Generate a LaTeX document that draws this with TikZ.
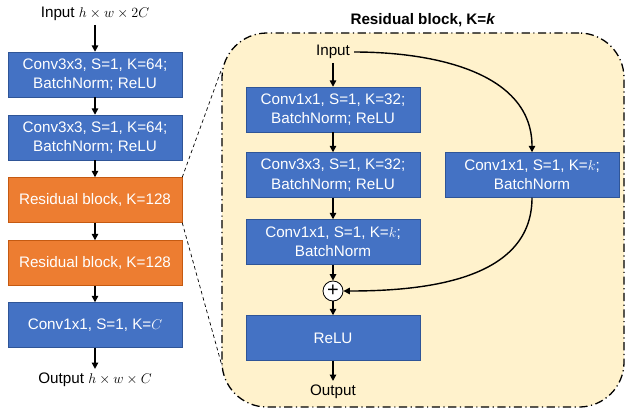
\documentclass[tikz,border=0pt]{standalone}
\usepackage{fontspec}
\setmainfont{Liberation Sans}
\usetikzlibrary{arrows.meta, positioning, calc}
\definecolor{convblue}{HTML}{4472C4}
\definecolor{convedge}{HTML}{2F5597}
\definecolor{resorange}{HTML}{ED7D31}
\definecolor{resedge}{HTML}{C55A11}
\definecolor{blockfill}{HTML}{FFF2CC}

\begin{document}
\begin{tikzpicture}[
    x=0.03cm, y=-0.03cm,
    font=\fontsize{13}{16.5}\selectfont,
    layer/.style={
        rectangle, draw=convedge, fill=convblue, line width=0.4pt,
        align=center, text=white, inner sep=2pt,
        minimum width=5.22cm, minimum height=1.35cm
    },
    resblock/.style={
        layer, draw=resedge, fill=resorange
    },
    flow/.style={-{Triangle[length=5.5pt,width=5.5pt]}, line width=1.2pt, black},
    zoomline/.style={draw=black, dash pattern=on 3pt off 2.5pt, line width=0.6pt},
    frame/.style={
        rectangle, draw=black, fill=blockfill, rounded corners=1.35cm,
        line width=1.1pt, dash pattern=on 7pt off 3pt on 1pt off 3pt,
        minimum width=12.06cm, minimum height=11.22cm, inner sep=0pt
    },
    addop/.style={circle, draw=black, fill=white, line width=0.7pt,
        minimum size=0.6cm, inner sep=0pt, font=\fontsize{17}{17}\selectfont}
]

% ---- Fixed canvas ----
\useasboundingbox (0,0) rectangle (626,409);

% ---- Expanded residual block (background first) ----
\node[frame] (rb) at (423,220) {};
\node[font=\fontsize{13}{16.5}\selectfont\bfseries] (rbtitle) at (423,20)
     {Residual block, K=\textit{k}};

% ---- Main network, top to bottom ----
\node (in)   at (95,14)  {Input $h\times w\times 2C$};
\node[layer]    (c1)   at (95,74.5)  {Conv3x3, S=1, K=64;\\BatchNorm; ReLU};
\node[layer]    (c2)   at (95,137.5) {Conv3x3, S=1, K=64;\\BatchNorm; ReLU};
\node[resblock] (res1) at (95,200)   {Residual block, K=128};
\node[resblock] (res2) at (95,263)   {Residual block, K=128};
\node[layer]    (c3)   at (95,325)   {Conv1x1, S=1, K=$C$};
\node (out)  at (95,380) {Output $h\times w\times C$};

\draw[flow] (in) -- (c1);
\draw[flow] (c1) -- (c2);
\draw[flow] (c2) -- (res1);
\draw[flow] (res1) -- (res2);
\draw[flow] (res2) -- (c3);
\draw[flow] (c3) -- (out);

% ---- Zoom lines from the first residual block ----
\coordinate (zt) at (222,68);
\coordinate (zb) at (222,366);
\draw[zoomline] (res1.north east) -- (zt);
\draw[zoomline] (res1.south east) -- (zb);

% ---- Inside the block: main branch ----
\node (bin)  at (333,52) {Input};
\node[layer] (b1) at (333,109.5) {Conv1x1, S=1, K=32;\\BatchNorm; ReLU};
\node[layer] (b2) at (333,175)   {Conv3x3, S=1, K=32;\\BatchNorm; ReLU};
\node[layer] (b3) at (333,242)   {Conv1x1, S=1, K=$k$;\\BatchNorm};
\node[addop] (sum) at (333,291)  {+};
\node[layer] (relu) at (333,338) {ReLU};
\node (bout) at (333,392) {Output};

\draw[flow] (bin) -- (b1);
\draw[flow] (b1) -- (b2);
\draw[flow] (b2) -- (b3);
\draw[flow] (b3) -- (sum);
\draw[flow] (sum) -- (relu);
\draw[flow] (relu) -- (bout);

% ---- Shortcut branch ----
\node[layer] (sc) at (532,175) {Conv1x1, S=1, K=$k$;\\BatchNorm};
\draw[flow] (bin.east) to[out=0, in=90] (sc.north);
\draw[flow] (sc.south) to[out=-90, in=0] (sum.east);

\end{tikzpicture}
\end{document}
